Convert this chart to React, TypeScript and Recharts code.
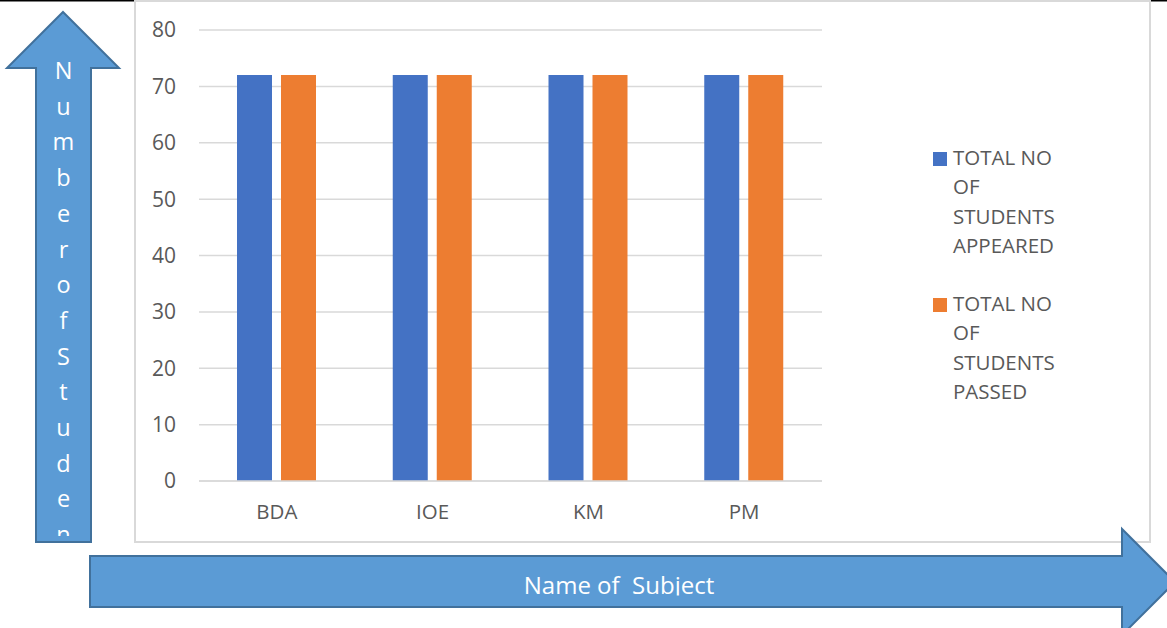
import { BarChart, Bar, XAxis, YAxis, CartesianGrid, Legend } from 'recharts';

const subjects = ['BDA', 'IOE', 'KM', 'PM'];
const appeared = [72, 72, 72, 72];
const passed = [72, 72, 72, 72];
const yTicks = [0, 10, 20, 30, 40, 50, 60, 70, 80];
const seriesNames = ['TOTAL NO OF STUDENTS APPEARED', 'TOTAL NO OF STUDENTS PASSED'];
const yArrowLabel = 'Number of Students';
const xArrowLabel = 'Name of\u00a0 Subject';

const FONT = '"Open Sans", sans-serif';
const GREY_TEXT = '#595959';
const ARROW_FILL = '#5b9bd5';
const ARROW_STROKE = '#41719c';

const data = subjects.map((name, i) => ({
  name,
  appeared: appeared[i],
  passed: passed[i],
}));

const LegendBox = (props: any) => {
  const items = props.payload || [];
  return (
    <div style={{ fontFamily: FONT, fontSize: 20.5, color: GREY_TEXT, lineHeight: '29.3px' }}>
      {items.map((entry: any, i: number) => (
        <div key={i} style={{ display: 'flex', marginBottom: 29 }}>
          <span
            style={{
              width: 14,
              height: 14,
              background: entry.color,
              marginTop: 9,
              marginRight: 6,
              flex: 'none',
            }}
          />
          <span style={{ width: 112 }}>{entry.value}</span>
        </div>
      ))}
    </div>
  );
};

const Arrows = () => {
  const letters = yArrowLabel.replace(/ /g, '').split('');
  return (
    <svg width={1167} height={628} style={{ position: 'absolute', left: 0, top: 0 }}>
      <defs>
        <clipPath id="upClip">
          <rect x={36} y={40} width={56} height={496} />
        </clipPath>
        <clipPath id="rightClip">
          <rect x={90} y={556} width={1100} height={39.5} />
        </clipPath>
      </defs>
      <line x1={0} y1={0.5} x2={134} y2={0.5} stroke="#000" strokeWidth={2} />
      <line x1={1151} y1={0.5} x2={1167} y2={0.5} stroke="#000" strokeWidth={2} />
      <polygon
        points="63,12 119,68 91,68 91,542 36,542 36,68 7,68"
        fill={ARROW_FILL}
        stroke={ARROW_STROKE}
        strokeWidth={2}
      />
      <g clipPath="url(#upClip)">
        {letters.map((ch, i) => (
          <text
            key={i}
            x={63.5}
            y={79 + i * 35.7}
            textAnchor="middle"
            fill="#fff"
            fontFamily={FONT}
            fontSize={23.5}
          >
            {ch}
          </text>
        ))}
      </g>
      <polygon
        points="90,556 1122,556 1122,529 1175,582 1122,635 1122,607 90,607"
        fill={ARROW_FILL}
        stroke={ARROW_STROKE}
        strokeWidth={2}
      />
      <g clipPath="url(#rightClip)">
        <text x={619} y={594} textAnchor="middle" fill="#fff" fontFamily={FONT} fontSize={24}>
          {xArrowLabel}
        </text>
      </g>
    </svg>
  );
};

export default function App() {
  return (
    <div
      style={{
        position: 'absolute',
        left: 0,
        top: 0,
        width: 1167,
        height: 628,
        overflow: 'hidden',
        background: '#fff',
      }}
    >
      <div
        style={{
          position: 'absolute',
          left: 134,
          top: 0,
          width: 1017,
          height: 543,
          border: '2px solid #d9d9d9',
          boxSizing: 'border-box',
        }}
      />
      <div style={{ position: 'absolute', left: 135, top: 0 }}>
        <BarChart
          width={1015}
          height={543}
          data={data}
          margin={{ top: 30, right: 328, left: 0, bottom: 22 }}
          barGap={9}
        >
          <CartesianGrid vertical={false} stroke="#d9d9d9" strokeWidth={1.5} />
          <XAxis
            dataKey="name"
            height={40}
            tickLine={false}
            tickSize={0}
            tickMargin={23}
            axisLine={{ stroke: '#d9d9d9', strokeWidth: 1.5 }}
            tick={{ fontSize: 20.5, fill: GREY_TEXT, fontFamily: FONT }}
          />
          <YAxis
            width={64}
            domain={[0, 80]}
            ticks={yTicks}
            axisLine={false}
            tickLine={false}
            tickSize={0}
            tickMargin={23}
            tick={{ fontSize: 21, fill: GREY_TEXT, fontFamily: FONT }}
          />
          <Legend
            layout="vertical"
            align="center"
            verticalAlign="middle"
            wrapperStyle={{ left: 798, top: 143, width: 140 }}
            content={<LegendBox />}
          />
          <Bar
            dataKey="appeared"
            name={seriesNames[0]}
            fill="#4472c4"
            barSize={35}
            isAnimationActive={false}
          />
          <Bar
            dataKey="passed"
            name={seriesNames[1]}
            fill="#ed7d31"
            barSize={35}
            isAnimationActive={false}
          />
        </BarChart>
      </div>
      <Arrows />
    </div>
  );
}
